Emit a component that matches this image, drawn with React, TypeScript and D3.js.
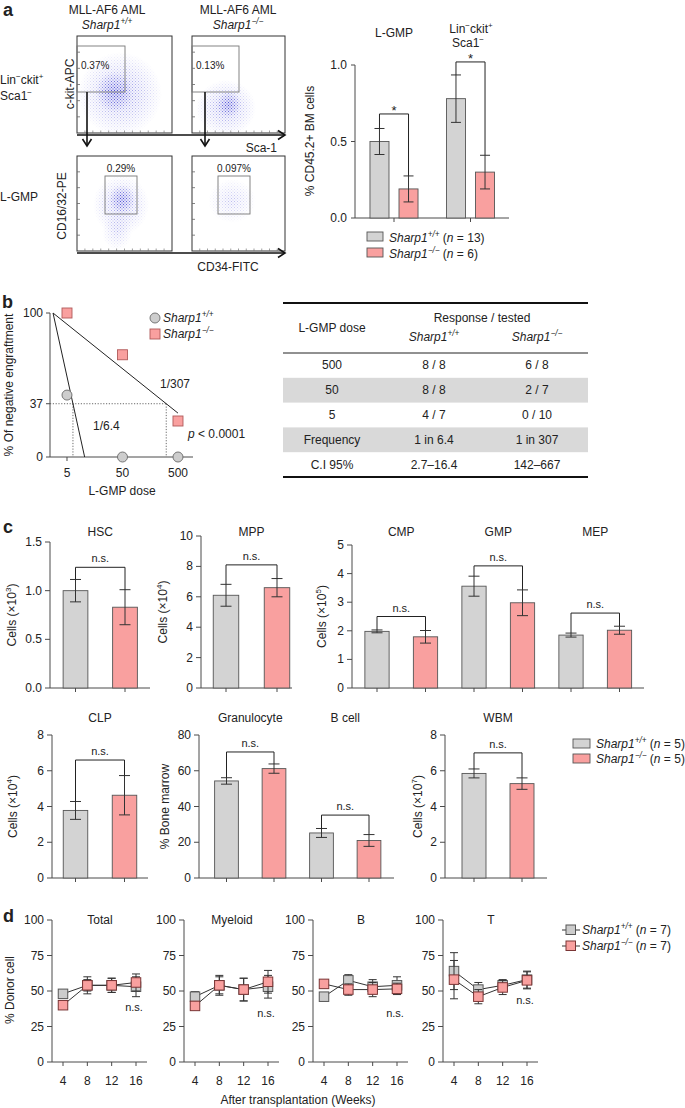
import React from "react";
import * as d3 from "d3";

const FONT = "'Liberation Sans', Arial, Helvetica, sans-serif";
const GREY_FILL = "#d3d3d3";
const RED_FILL = "#f9a09f";
const BAR_STROKE = "#555555";
const INK = "#222222";
const AXIS = "#4a4a4a";
const MINUS = "\u2212";

// ---------------- Panel a data ----------------
const aGroups = ["L-GMP", "LSK"];
const aWT = [0.5, 0.78];
const aWTErr = [0.085, 0.155];
const aKO = [0.19, 0.3];
const aKOErr = [0.085, 0.11];
const aBracket = [0.68, 1.02];
const aTicks = [0, 0.5, 1.0];
const aLegendN = [13, 6];
const aGates = ["0.37%", "0.13%", "0.29%", "0.097%"];

// ---------------- Panel b data ----------------
const bDoses = [5, 50, 500];
const bWT = [43, 0, 0];
const bKO = [100, 71, 25];
const bFreq = [6.4, 307];
const bYTicks = [0, 37, 100];
const tableDose = ["500", "50", "5", "Frequency", "C.I 95%"];
const tableWT = ["8 / 8", "8 / 8", "4 / 7", "1 in 6.4", "2.7\u201316.4"];
const tableKO = ["6 / 8", "2 / 7", "0 / 10", "1 in 307", "142\u2013667"];

// ---------------- Panel c data ----------------
const cTopCats = ["HSC", "MPP", "CMP", "GMP", "MEP"];
const cTopWT = [1.0, 6.1, 1.98, 3.56, 1.85];
const cTopWTErr = [0.115, 0.72, 0.05, 0.35, 0.07];
const cTopKO = [0.83, 6.6, 1.79, 2.98, 2.02];
const cTopKOErr = [0.18, 0.6, 0.22, 0.45, 0.14];
const cTopBracket = [1.24, 8.1, 2.5, 4.27, 2.62];

const cBotCats = ["CLP", "Granulocyte", "B cell", "WBM"];
const cBotWT = [3.78, 54.3, 25.2, 5.85];
const cBotWTErr = [0.5, 1.8, 2.5, 0.25];
const cBotKO = [4.63, 61.2, 21.0, 5.28];
const cBotKOErr = [1.1, 2.6, 3.3, 0.32];
const cBotBracket = [6.6, 70.5, 35.2, 7.0];
const cLegendN = [5, 5];

// ---------------- Panel d data ----------------
const dWeeks = [4, 8, 12, 16];
const dTitles = ["Total", "Myeloid", "B", "T"];
const dTotalWT = [48, 54, 54, 53];
const dTotalWTErr = [2.5, 6, 5, 7];
const dTotalKO = [40, 54, 54, 56];
const dTotalKOErr = [1.5, 4, 5, 6];
const dMyeWT = [46, 54, 51, 53];
const dMyeWTErr = [3.5, 7, 8, 8];
const dMyeKO = [39.5, 54, 51, 56.5];
const dMyeKOErr = [2, 6, 8, 8];
const dBWT = [46, 57.5, 53, 54];
const dBWTErr = [2, 4, 5, 6];
const dBKO = [55, 51, 51, 51.5];
const dBKOErr = [1.5, 4, 5, 4];
const dTWT = [64, 51, 54, 58];
const dTWTErr = [13, 5, 4, 6];
const dTKO = [58, 46, 52.5, 57.5];
const dTKOErr = [13.5, 5, 5, 6];
const dYTicks = [0, 25, 50, 75, 100];
const dLegendN = [7, 7];

// ---------------- helpers ----------------
function SharpText({ x, y, sup, size = 12, anchor = "start", n }: any) {
  const s = size * 0.68;
  const up = size * 0.42;
  return (
    <text x={x} y={y} fontSize={size} fontFamily={FONT} textAnchor={anchor} fill={INK}>
      <tspan fontStyle="italic">Sharp1</tspan>
      <tspan fontStyle="italic" fontSize={s} dy={-up}>{sup}</tspan>
      {n !== undefined ? (
        <>
          <tspan dy={up}>{" ("}</tspan>
          <tspan fontStyle="italic">n</tspan>
          <tspan>{` = ${n})`}</tspan>
        </>
      ) : (
        <tspan dy={up}>{""}</tspan>
      )}
    </text>
  );
}

function ErrBar({ x, y1, y2, cap = 11, color = "#333" }: any) {
  return (
    <g stroke={color} strokeWidth={1}>
      <line x1={x} x2={x} y1={y1} y2={y2} />
      <line x1={x - cap / 2} x2={x + cap / 2} y1={y1} y2={y1} />
      <line x1={x - cap / 2} x2={x + cap / 2} y1={y2} y2={y2} />
    </g>
  );
}

function Bracket({ xa, xb, y, ya, yb, label, size = 11, offset = 5 }: any) {
  return (
    <g>
      <path d={`M${xa},${ya}V${y}H${xb}V${yb}`} fill="none" stroke="#222" strokeWidth={1} />
      <text x={(xa + xb) / 2} y={y - offset} textAnchor="middle" fontSize={size} fill={INK} fontFamily={FONT}>
        {label}
      </text>
    </g>
  );
}

// ---------------- Panel a: flow plots ----------------
const flowPlots = [
  { x0: 77, x1: 172, y0: 36, y1: 133, gate: [77, 46, 125, 92], px: 81, py: 69, anchor: "start",
    clouds: [{ cx: 120, cy: 94, rx: 42, ry: 42, k: 0.7 }, { cx: 114, cy: 92, rx: 18, ry: 20, k: 1 }] },
  { x0: 192, x1: 285, y0: 36, y1: 133, gate: [192, 46, 239, 92], px: 196, py: 69, anchor: "start",
    clouds: [{ cx: 226, cy: 108, rx: 30, ry: 28, k: 0.65 }, { cx: 229, cy: 104, rx: 12, ry: 13, k: 1 }] },
  { x0: 77, x1: 172, y0: 156, y1: 251, gate: [105, 176, 137, 214], px: 121, py: 172, anchor: "middle",
    clouds: [{ cx: 121, cy: 205, rx: 28, ry: 30, k: 0.6 }, { cx: 122, cy: 199, rx: 13, ry: 14, k: 1 }, { cx: 117, cy: 232, rx: 15, ry: 18, k: 0.35 }] },
  { x0: 192, x1: 285, y0: 156, y1: 251, gate: [218, 176, 250, 214], px: 234, py: 172, anchor: "middle",
    clouds: [{ cx: 232, cy: 201, rx: 24, ry: 22, k: 0.35 }] },
];

function PanelAFlow() {
  return (
    <g fontFamily={FONT} fill={INK}>
      <defs>
        <pattern id="dotpat" width={3} height={3} patternUnits="userSpaceOnUse">
          <rect x={0} y={0} width={1} height={1} fill="#4646d4" />
          <rect x={1.5} y={1.5} width={1} height={1} fill="#6a6ae2" />
        </pattern>
        <radialGradient id="whiteGrad">
          <stop offset="0%" stopColor="#fff" stopOpacity={1} />
          <stop offset="100%" stopColor="#fff" stopOpacity={0} />
        </radialGradient>
        <radialGradient id="blueGrad">
          <stop offset="0%" stopColor="#6a6ae0" stopOpacity={0.28} />
          <stop offset="100%" stopColor="#6a6ae0" stopOpacity={0} />
        </radialGradient>
      </defs>
      <text x={3} y={16} fontSize={18} fontWeight="bold">a</text>
      <text x={107} y={14} fontSize={12} textAnchor="middle">MLL-AF6 AML</text>
      <SharpText x={107} y={29} sup="+/+" anchor="middle" />
      <text x={238} y={14} fontSize={12} textAnchor="middle">MLL-AF6 AML</text>
      <SharpText x={238} y={29} sup={`${MINUS}/${MINUS}`} anchor="middle" />
      <text x={0} y={84} fontSize={12}>
        Lin<tspan fontSize={8} dy={-5}>{MINUS}</tspan><tspan dy={5}>ckit</tspan><tspan fontSize={8} dy={-5}>+</tspan>
      </text>
      <text x={0} y={100} fontSize={12}>
        Sca1<tspan fontSize={8} dy={-5}>{MINUS}</tspan>
      </text>
      <text x={0} y={201} fontSize={12}>L-GMP</text>
      <text transform="translate(74,84) rotate(-90)" fontSize={12} textAnchor="middle">c-kit-APC</text>
      <text transform="translate(66,206) rotate(-90)" fontSize={12} textAnchor="middle">CD16/32-PE</text>
      {flowPlots.map((p, i) => (
        <g key={i}>
          <clipPath id={`fclip${i}`}>
            <rect x={p.x0} y={p.y0} width={p.x1 - p.x0} height={p.y1 - p.y0} />
          </clipPath>
          <g clipPath={`url(#fclip${i})`}>
            {p.clouds.map((c, j) => (
              <g key={j}>
                <mask id={`fm${i}_${j}`}>
                  <ellipse cx={c.cx} cy={c.cy} rx={c.rx} ry={c.ry} fill="url(#whiteGrad)" opacity={c.k} />
                </mask>
                <ellipse cx={c.cx} cy={c.cy} rx={c.rx} ry={c.ry} fill="url(#blueGrad)" opacity={c.k * 0.6} />
                <rect x={p.x0} y={p.y0} width={p.x1 - p.x0} height={p.y1 - p.y0} fill="url(#dotpat)" mask={`url(#fm${i}_${j})`} />
              </g>
            ))}
          </g>
          <rect x={p.x0} y={p.y0} width={p.x1 - p.x0} height={p.y1 - p.y0} fill="none" stroke="#333" strokeWidth={1} />
          {d3.range(1, 6).map((k) => {
            const yy = p.y0 + ((p.y1 - p.y0) * k) / 6;
            return <line key={k} x1={p.x0} x2={p.x0 + 3} y1={yy} y2={yy} stroke="#666" strokeWidth={0.8} />;
          })}
          {d3.range(1, 12).map((k) => {
            const xx = p.x0 + ((p.x1 - p.x0) * k) / 12;
            return <line key={k} x1={xx} x2={xx} y1={p.y1} y2={p.y1 - 2.5} stroke="#777" strokeWidth={0.7} />;
          })}
          <rect x={p.gate[0]} y={p.gate[1]} width={p.gate[2] - p.gate[0]} height={p.gate[3] - p.gate[1]} fill="none" stroke="#777" strokeWidth={0.9} />
          <text x={p.px} y={p.py} fontSize={10} textAnchor={p.anchor}>{aGates[i]}</text>
        </g>
      ))}
      {/* arrows */}
      <g stroke="#111" strokeWidth={1.6} fill="none">
        <line x1={77} x2={284} y1={135} y2={135} />
        <path d="M278,130.5L285,135L278,139.5" />
        <line x1={87} x2={87} y1={92} y2={146} />
        <path d="M82.5,139L87,146L91.5,139" />
        <line x1={205} x2={205} y1={92} y2={146} />
        <path d="M200.5,139L205,146L209.5,139" />
        <line x1={77} x2={284} y1={253} y2={253} />
        <path d="M278,248.5L285,253L278,257.5" />
      </g>
      <text x={277} y={152} fontSize={12} textAnchor="end">Sca-1</text>
      <text x={228} y={271} fontSize={12} textAnchor="middle">CD34-FITC</text>
    </g>
  );
}

// ---------------- Panel a: bars ----------------
function PanelABars() {
  const y = d3.scaleLinear().domain([0, 1]).range([218, 65]);
  const gx = d3.scaleBand().domain(aGroups).range([355.75, 508.75]);
  const ix = d3.scaleBand().domain(["wt", "ko"]).range([0, gx.bandwidth()]).paddingInner(0.345).paddingOuter(0.49);
  const bw = ix.bandwidth();
  return (
    <g fontFamily={FONT} fill={INK}>
      <text x={394} y={37} fontSize={12} textAnchor="middle">L-GMP</text>
      <text x={471} y={33} fontSize={12} textAnchor="middle">
        Lin<tspan fontSize={8} dy={-5}>{MINUS}</tspan><tspan dy={5}>ckit</tspan><tspan fontSize={8} dy={-5}>+</tspan>
      </text>
      <text x={468} y={47} fontSize={12} textAnchor="middle">
        Sca1<tspan fontSize={8} dy={-5}>{MINUS}</tspan>
      </text>
      <text transform="translate(314,141) rotate(-90)" fontSize={12} textAnchor="middle">% CD45.2+ BM cells</text>
      {/* axes */}
      <line x1={355} x2={355} y1={y(1)} y2={y(0)} stroke={AXIS} />
      <line x1={355} x2={509} y1={y(0)} y2={y(0)} stroke={AXIS} />
      {aTicks.map((t) => (
        <g key={t}>
          <line x1={351} x2={355} y1={y(t)} y2={y(t)} stroke={AXIS} />
          <text x={347} y={y(t) + 4} fontSize={12} textAnchor="end">{d3.format(".1f")(t)}</text>
        </g>
      ))}
      {aGroups.map((g) => {
        const c = (gx(g) as number) + gx.bandwidth() / 2;
        return <line key={g} x1={c} x2={c} y1={y(0)} y2={y(0) + 4} stroke={AXIS} />;
      })}
      {aGroups.map((g, i) => {
        const xw = (gx(g) as number) + (ix("wt") as number);
        const xk = (gx(g) as number) + (ix("ko") as number);
        return (
          <g key={g}>
            <rect x={xw} y={y(aWT[i])} width={bw} height={y(0) - y(aWT[i])} fill={GREY_FILL} stroke={BAR_STROKE} strokeWidth={0.9} />
            <rect x={xk} y={y(aKO[i])} width={bw} height={y(0) - y(aKO[i])} fill={RED_FILL} stroke={BAR_STROKE} strokeWidth={0.9} />
            <ErrBar x={xw + bw / 2} y1={y(aWT[i] + aWTErr[i])} y2={y(aWT[i] - aWTErr[i])} cap={10} />
            <ErrBar x={xk + bw / 2} y1={y(aKO[i] + aKOErr[i])} y2={y(aKO[i] - aKOErr[i])} cap={10} />
            <Bracket xa={xw + bw / 2} xb={xk + bw / 2} y={y(aBracket[i])} ya={y(aWT[i] + aWTErr[i])} yb={y(aKO[i] + aKOErr[i])} label="*" size={13} offset={-1} />
          </g>
        );
      })}
      {/* legend */}
      <rect x={367} y={232} width={16} height={9} fill={GREY_FILL} stroke={BAR_STROKE} strokeWidth={0.9} />
      <SharpText x={389} y={242} sup="+/+" n={aLegendN[0]} />
      <rect x={367} y={248} width={16} height={9} fill={RED_FILL} stroke={BAR_STROKE} strokeWidth={0.9} />
      <SharpText x={389} y={258} sup={`${MINUS}/${MINUS}`} n={aLegendN[1]} />
    </g>
  );
}

// ---------------- Panel b: limiting dilution plot ----------------
function PanelBPlot() {
  const x = d3.scaleLog().domain([2.47, 932]).range([50, 193]);
  const y = d3.scaleLinear().domain([0, 100]).range([457, 313]);
  const start = 2.8;
  const lg = Math.log10;
  const fit = (f: number) => {
    const yAt = (dd: number) => 100 - 63 * (lg(dd) - lg(start)) / (lg(f) - lg(start));
    const zeroDose = Math.pow(10, lg(start) + (100 / 63) * (lg(f) - lg(start)));
    const end = Math.min(500, zeroDose);
    return d3.line()([[x(start), y(100)], [x(end), y(yAt(end))]]) as string;
  };
  return (
    <g fontFamily={FONT} fill={INK}>
      <text x={2} y={308} fontSize={18} fontWeight="bold">b</text>
      <text transform="translate(13,385) rotate(-90)" fontSize={12} textAnchor="middle">% Of negative engraftment</text>
      <text x={122} y={495} fontSize={12} textAnchor="middle">L-GMP dose</text>
      {/* dotted guides */}
      <g stroke="#444" strokeWidth={0.8} strokeDasharray="1.2,1.6">
        <line x1={50} x2={x(bFreq[1])} y1={y(37)} y2={y(37)} />
        <line x1={x(bFreq[0])} x2={x(bFreq[0])} y1={y(37)} y2={y(0)} />
        <line x1={x(bFreq[1])} x2={x(bFreq[1])} y1={y(37)} y2={y(0)} />
      </g>
      <line x1={50} x2={50} y1={y(100)} y2={y(0)} stroke={AXIS} />
      <line x1={50} x2={193} y1={y(0)} y2={y(0)} stroke={AXIS} />
      {bYTicks.map((t) => (
        <g key={t}>
          <line x1={46} x2={50} y1={y(t)} y2={y(t)} stroke={AXIS} />
          <text x={43} y={y(t) + 4} fontSize={12} textAnchor="end">{t}</text>
        </g>
      ))}
      {bDoses.map((d) => (
        <g key={d}>
          <line x1={x(d)} x2={x(d)} y1={y(0)} y2={y(0) + 4} stroke={AXIS} />
          <text x={x(d)} y={477} fontSize={12} textAnchor="middle">{d}</text>
        </g>
      ))}
      <path d={fit(bFreq[0])} stroke="#222" strokeWidth={1} fill="none" />
      <path d={fit(bFreq[1])} stroke="#222" strokeWidth={1} fill="none" />
      {bDoses.map((d, i) => (
        <circle key={"w" + d} cx={x(d)} cy={y(bWT[i])} r={5} fill="#cdcdcd" stroke="#6a6a6a" strokeWidth={0.9} />
      ))}
      {bDoses.map((d, i) => (
        <rect key={"k" + d} x={x(d) - 5} y={y(bKO[i]) - 5} width={10} height={10} fill={RED_FILL} stroke="#b05a5a" strokeWidth={0.9} />
      ))}
      <text x={160} y={388} fontSize={12}>1/307</text>
      <text x={93} y={430} fontSize={12}>1/6.4</text>
      <text x={188} y={438} fontSize={12}>
        <tspan fontStyle="italic">p</tspan> {"< 0.0001"}
      </text>
      {/* legend */}
      <circle cx={155} cy={318} r={5} fill="#cdcdcd" stroke="#6a6a6a" strokeWidth={0.9} />
      <SharpText x={163} y={322} sup="+/+" />
      <rect x={150} y={329} width={10} height={10} fill={RED_FILL} stroke="#b05a5a" strokeWidth={0.9} />
      <SharpText x={163} y={338} sup={`${MINUS}/${MINUS}`} />
    </g>
  );
}

// ---------------- Panel b: table ----------------
function PanelBTable() {
  const left = 283;
  const right = 588;
  const cols = [332, 434, 537];
  const row = d3.scaleBand().domain(tableDose).range([353, 477]);
  const rh = row.bandwidth();
  return (
    <g fontFamily={FONT} fill={INK} fontSize={12}>
      {tableDose.map((d, i) =>
        i % 2 === 1 ? <rect key={d} x={left} y={row(d)} width={right - left} height={rh} fill="#d9d9d9" /> : null
      )}
      <line x1={left} x2={right} y1={303} y2={303} stroke="#111" strokeWidth={2.2} />
      <line x1={left} x2={right} y1={353} y2={353} stroke="#222" strokeWidth={1} />
      <line x1={left} x2={right} y1={477} y2={477} stroke="#111" strokeWidth={2.2} />
      <text x={cols[0]} y={332} textAnchor="middle">L-GMP dose</text>
      <text x={482} y={322} textAnchor="middle">Response / tested</text>
      <SharpText x={cols[1]} y={341} sup="+/+" anchor="middle" />
      <SharpText x={cols[2]} y={341} sup={`${MINUS}/${MINUS}`} anchor="middle" />
      {tableDose.map((d, i) => {
        const cy = (row(d) as number) + rh / 2 + 4;
        return (
          <g key={d}>
            <text x={cols[0]} y={cy} textAnchor="middle">{d}</text>
            <text x={cols[1]} y={cy} textAnchor="middle">{tableWT[i]}</text>
            <text x={cols[2]} y={cy} textAnchor="middle">{tableKO[i]}</text>
          </g>
        );
      })}
    </g>
  );
}

// ---------------- Panel c ----------------
const cLayout = [
  { row: 0, idx: [0], max: 1.5, ticks: [0, 0.5, 1, 1.5], fmt: ".1f", axisX: 50, axisEnd: 150, c0: 75.5, step: 49.5, yTop: 542, exp: "3", lx: 12 },
  { row: 0, idx: [1], max: 10, ticks: [0, 2, 4, 6, 8, 10], fmt: "d", axisX: 201, axisEnd: 292, c0: 226, step: 51, yTop: 536, exp: "4", lx: 163 },
  { row: 0, idx: [2, 3, 4], max: 5, ticks: [0, 1, 2, 3, 4, 5], fmt: "d", axisX: 352, axisEnd: 644, c0: 377, step: 48.5, yTop: 545, exp: "5", lx: 322 },
  { row: 1, idx: [0], max: 8, ticks: [0, 2, 4, 6, 8], fmt: "d", axisX: 52, axisEnd: 148, c0: 75.5, step: 49, yTop: 735, exp: "4", lx: 13 },
  { row: 1, idx: [1, 2], max: 80, ticks: [0, 20, 40, 60, 80], fmt: "d", axisX: 199, axisEnd: 394, c0: 226.5, step: 47.5, yTop: 735, exp: null, lx: 165 },
  { row: 1, idx: [3], max: 8, ticks: [0, 2, 4, 6, 8], fmt: "d", axisX: 445, axisEnd: 547, c0: 474, step: 48, yTop: 735, exp: "7", lx: 418 },
];
const cRowY0 = [688, 878];
const cTitleY = [536, 722];

function PanelC() {
  const rows = [
    { cats: cTopCats, wt: cTopWT, wtE: cTopWTErr, ko: cTopKO, koE: cTopKOErr, br: cTopBracket },
    { cats: cBotCats, wt: cBotWT, wtE: cBotWTErr, ko: cBotKO, koE: cBotKOErr, br: cBotBracket },
  ];
  return (
    <g fontFamily={FONT} fill={INK}>
      <text x={3} y={533} fontSize={18} fontWeight="bold">c</text>
      {cLayout.map((L, pi) => {
        const R = rows[L.row];
        const y0 = cRowY0[L.row];
        const y = d3.scaleLinear().domain([0, L.max]).range([y0, L.yTop]);
        const keys: string[] = [];
        L.idx.forEach((i) => { keys.push("w" + i); keys.push("k" + i); });
        const n = keys.length;
        const band = d3.scaleBand().domain(keys)
          .range([L.c0 - L.step / 2, L.c0 + (n - 0.5) * L.step])
          .paddingInner(0.5).paddingOuter(0.25);
        const bw = band.bandwidth();
        const fmt = L.fmt === "d" ? d3.format("d") : d3.format(L.fmt);
        const ymid = (y0 + L.yTop) / 2;
        return (
          <g key={pi}>
            <line x1={L.axisX} x2={L.axisX} y1={L.yTop} y2={y0} stroke={AXIS} />
            <line x1={L.axisX} x2={L.axisEnd} y1={y0} y2={y0} stroke={AXIS} />
            {L.ticks.map((t) => (
              <g key={t}>
                <line x1={L.axisX - 5} x2={L.axisX} y1={y(t)} y2={y(t)} stroke={AXIS} />
                <text x={L.axisX - 8} y={y(t) + 4} fontSize={12} textAnchor="end">{fmt(t)}</text>
              </g>
            ))}
            {L.exp ? (
              <text transform={`translate(${L.lx + 4},${ymid}) rotate(-90)`} fontSize={12} textAnchor="middle">
                Cells (×10<tspan fontSize={8} dy={-5}>{L.exp}</tspan><tspan dy={5}>)</tspan>
              </text>
            ) : (
              <text transform={`translate(${L.lx + 4},${ymid}) rotate(-90)`} fontSize={12} textAnchor="middle">% Bone marrow</text>
            )}
            {L.idx.map((i) => {
              const xw = band("w" + i) as number;
              const xk = band("k" + i) as number;
              const cw = xw + bw / 2;
              const ck = xk + bw / 2;
              return (
                <g key={i}>
                  <text x={(cw + ck) / 2} y={cTitleY[L.row]} fontSize={12} textAnchor="middle">{R.cats[i]}</text>
                  <rect x={xw} y={y(R.wt[i])} width={bw} height={y0 - y(R.wt[i])} fill={GREY_FILL} stroke={BAR_STROKE} strokeWidth={0.9} />
                  <rect x={xk} y={y(R.ko[i])} width={bw} height={y0 - y(R.ko[i])} fill={RED_FILL} stroke={BAR_STROKE} strokeWidth={0.9} />
                  <ErrBar x={cw} y1={y(R.wt[i] + R.wtE[i])} y2={y(R.wt[i] - R.wtE[i])} />
                  <ErrBar x={ck} y1={y(R.ko[i] + R.koE[i])} y2={y(R.ko[i] - R.koE[i])} />
                  <line x1={cw} x2={cw} y1={y0} y2={y0 + 4} stroke={AXIS} />
                  <line x1={ck} x2={ck} y1={y0} y2={y0 + 4} stroke={AXIS} />
                  <Bracket xa={cw} xb={ck} y={y(R.br[i])} ya={y(R.wt[i] + R.wtE[i])} yb={y(R.ko[i] + R.koE[i])} label="n.s." size={11} offset={5} />
                </g>
              );
            })}
          </g>
        );
      })}
      {/* legend */}
      <rect x={573} y={739} width={17} height={9} fill={GREY_FILL} stroke={BAR_STROKE} strokeWidth={0.9} />
      <SharpText x={596} y={748} sup="+/+" n={cLegendN[0]} />
      <rect x={573} y={754} width={17} height={9} fill={RED_FILL} stroke={BAR_STROKE} strokeWidth={0.9} />
      <SharpText x={596} y={763} sup={`${MINUS}/${MINUS}`} n={cLegendN[1]} />
    </g>
  );
}

// ---------------- Panel d ----------------
const dAxisX = [52, 184, 313, 443];
const dNsY = [36, 32, 32, 41];

function PanelD() {
  const wt = [dTotalWT, dMyeWT, dBWT, dTWT];
  const wtE = [dTotalWTErr, dMyeWTErr, dBWTErr, dTWTErr];
  const ko = [dTotalKO, dMyeKO, dBKO, dTKO];
  const koE = [dTotalKOErr, dMyeKOErr, dBKOErr, dTKOErr];
  const y = d3.scaleLinear().domain([0, 100]).range([1062, 920]);
  const sq = 9.5;
  return (
    <g fontFamily={FONT} fill={INK}>
      <text x={3} y={922} fontSize={18} fontWeight="bold">d</text>
      <text transform="translate(14,990) rotate(-90)" fontSize={12} textAnchor="middle">% Donor cell</text>
      <text x={298} y={1104} fontSize={12} textAnchor="middle">After transplantation (Weeks)</text>
      {dTitles.map((title, p) => {
        const ax = dAxisX[p];
        const x = d3.scaleLinear().domain([4, 16]).range([ax + 11, ax + 84]);
        const line = d3.line<number>().x((_, i) => x(dWeeks[i])).y((v) => y(v));
        return (
          <g key={title}>
            <line x1={ax} x2={ax} y1={y(100)} y2={y(0)} stroke={AXIS} />
            <line x1={ax} x2={ax + 95} y1={y(0)} y2={y(0)} stroke={AXIS} />
            {dYTicks.map((t) => (
              <g key={t}>
                <line x1={ax - 5} x2={ax} y1={y(t)} y2={y(t)} stroke={AXIS} />
                <text x={ax - 8} y={y(t) + 4} fontSize={12} textAnchor="end">{t}</text>
              </g>
            ))}
            {dWeeks.map((w) => (
              <g key={w}>
                <line x1={x(w)} x2={x(w)} y1={y(0)} y2={y(0) + 4} stroke={AXIS} />
                <text x={x(w)} y={1085} fontSize={12} textAnchor="middle">{w}</text>
              </g>
            ))}
            <text x={ax + 48} y={924} fontSize={12} textAnchor="middle">{title}</text>
            <text x={x(16) - 2} y={y(dNsY[p])} fontSize={11} textAnchor="middle">n.s.</text>
            {[{ v: wt[p], e: wtE[p], fill: "#cccccc", st: "#555" }, { v: ko[p], e: koE[p], fill: RED_FILL, st: "#7a3535" }].map((s, si) => (
              <g key={si}>
                <path d={line(s.v) as string} fill="none" stroke="#333" strokeWidth={1} />
                {s.v.map((v, i) => (
                  <ErrBar key={"e" + i} x={x(dWeeks[i])} y1={y(v + s.e[i])} y2={y(v - s.e[i])} cap={8} color="#333" />
                ))}
                {s.v.map((v, i) => (
                  <rect key={"m" + i} x={x(dWeeks[i]) - sq / 2} y={y(v) - sq / 2} width={sq} height={sq} fill={s.fill} stroke={s.st} strokeWidth={1} />
                ))}
              </g>
            ))}
          </g>
        );
      })}
      {/* legend */}
      <line x1={562} x2={580} y1={930} y2={930} stroke="#333" />
      <rect x={566} y={925} width={9.5} height={9.5} fill="#cccccc" stroke="#555" />
      <SharpText x={582} y={934} sup="+/+" n={dLegendN[0]} />
      <line x1={562} x2={580} y1={946} y2={946} stroke="#333" />
      <rect x={566} y={941} width={9.5} height={9.5} fill={RED_FILL} stroke="#7a3535" />
      <SharpText x={582} y={950} sup={`${MINUS}/${MINUS}`} n={dLegendN[1]} />
    </g>
  );
}

export default function App() {
  return (
    <svg
      width={685}
      height={1108}
      viewBox="0 0 685 1108"
      style={{ position: "absolute", left: 0, top: 0, background: "#fff", display: "block" }}
      fontFamily={FONT}
    >
      <rect width={685} height={1108} fill="#fff" />
      <PanelAFlow />
      <PanelABars />
      <PanelBPlot />
      <PanelBTable />
      <PanelC />
      <PanelD />
    </svg>
  );
}
